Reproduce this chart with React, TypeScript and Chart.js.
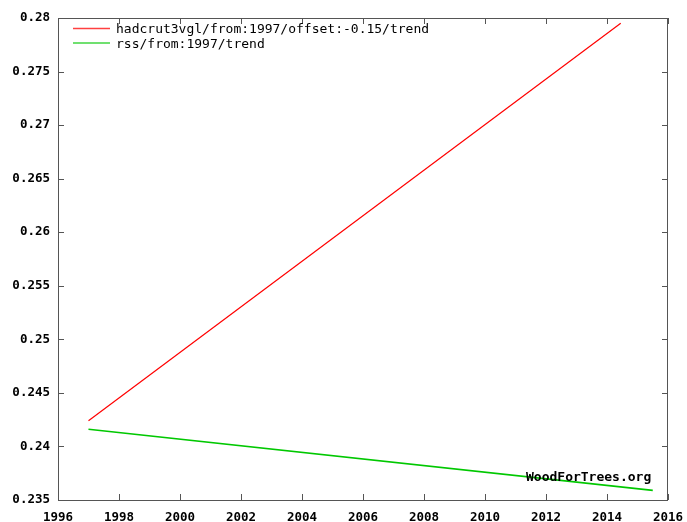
import React, { useEffect, useRef } from "react";
import { Chart, registerables } from "chart.js";

Chart.register(...registerables);

// Trend lines (year, anomaly)
const hadcrutYears = [1997.0, 2014.45];
const hadcrutTrend = [0.2424, 0.2795];
const rssYears = [1997.0, 2015.5];
const rssTrend = [0.2416, 0.2359];

const seriesLabels = ["hadcrut3vgl/from:1997/offset:-0.15/trend", "rss/from:1997/trend"];
const seriesColors = ["#ff0000", "#00c800"];

const xTicks = [1996, 1998, 2000, 2002, 2004, 2006, 2008, 2010, 2012, 2014, 2016];
const yTicks = [0.235, 0.24, 0.245, 0.25, 0.255, 0.26, 0.265, 0.27, 0.275, 0.28];

const MONO = "'DejaVu Sans Mono', 'Liberation Mono', monospace";

const framePlugin = {
  id: "frame",
  afterDatasetsDraw(chart: any) {
    const { ctx, chartArea } = chart;
    const { left, right, top, bottom } = chartArea;
    const xs = chart.scales.x;
    const ys = chart.scales.y;
    ctx.save();

    // watermark
    ctx.fillStyle = "#000";
    ctx.font = `bold 13px ${MONO}`;
    ctx.textBaseline = "middle";
    ctx.textAlign = "left";
    ctx.fillText("WoodForTrees.org", 526, 478);

    // border
    ctx.strokeStyle = "#555";
    ctx.lineWidth = 1;
    ctx.strokeRect(left + 0.5, top + 0.5, right - left - 1, bottom - top);

    // inward ticks on all sides
    const t = 6;
    ctx.beginPath();
    xTicks.forEach((v) => {
      const px = Math.round(xs.getPixelForValue(v)) + 0.5;
      ctx.moveTo(px, bottom);
      ctx.lineTo(px, bottom - t);
      ctx.moveTo(px, top);
      ctx.lineTo(px, top + t);
    });
    yTicks.forEach((v) => {
      const py = Math.round(ys.getPixelForValue(v)) + 0.5;
      ctx.moveTo(left, py);
      ctx.lineTo(left + t, py);
      ctx.moveTo(right, py);
      ctx.lineTo(right - t, py);
    });
    ctx.stroke();

    // legend
    ctx.font = `13px ${MONO}`;
    seriesLabels.forEach((label, i) => {
      const y = 28.5 + i * 14.5;
      ctx.strokeStyle = seriesColors[i];
      ctx.lineWidth = 1.4;
      ctx.globalAlpha = 0.75;
      ctx.beginPath();
      ctx.moveTo(73, y);
      ctx.lineTo(110, y);
      ctx.stroke();
      ctx.globalAlpha = 1;
      ctx.fillStyle = "#000";
      ctx.fillText(label, 116, y + 1.5);
    });
    ctx.restore();
  },
};

export default function App() {
  const ref = useRef<HTMLCanvasElement>(null);

  useEffect(() => {
    if (!ref.current) return;
    const chart = new Chart(ref.current, {
      type: "line",
      data: {
        datasets: [
          {
            label: seriesLabels[0],
            data: hadcrutYears.map((x, i) => ({ x, y: hadcrutTrend[i] })),
            borderColor: seriesColors[0],
            borderWidth: 1.2,
            pointRadius: 0,
          },
          {
            label: seriesLabels[1],
            data: rssYears.map((x, i) => ({ x, y: rssTrend[i] })),
            borderColor: seriesColors[1],
            borderWidth: 1.6,
            pointRadius: 0,
          },
        ],
      },
      options: {
        animation: false,
        responsive: false,
        layout: { padding: { top: 18, right: 19, left: 0, bottom: 0 } },
        plugins: { legend: { display: false }, tooltip: { enabled: false } },
        scales: {
          x: {
            type: "linear",
            min: 1996,
            max: 2016,
            afterFit: (s: any) => {
              s.height = 22;
              s.paddingLeft = 0;
              s.paddingRight = 0;
            },
            afterBuildTicks: (s: any) => {
              s.ticks = xTicks.map((v) => ({ value: v }));
            },
            grid: { display: false, drawTicks: false },
            border: { display: false },
            ticks: {
              padding: 10,
              maxRotation: 0,
              autoSkip: false,
              color: "#000",
              font: { family: MONO, size: 12.5, weight: "bold" },
              callback: (v: any) => String(v),
            },
          },
          y: {
            type: "linear",
            min: 0.235,
            max: 0.28,
            afterFit: (s: any) => {
              s.width = 58;
              s.paddingTop = 0;
              s.paddingBottom = 0;
            },
            afterBuildTicks: (s: any) => {
              s.ticks = yTicks.map((v) => ({ value: v }));
            },
            grid: { display: false, drawTicks: false },
            border: { display: false },
            ticks: {
              padding: 8,
              autoSkip: false,
              color: "#000",
              font: { family: MONO, size: 12.5, weight: "bold" },
              callback: (v: any) => String(parseFloat(Number(v).toFixed(3))),
            },
          },
        },
      },
      plugins: [framePlugin],
    });
    return () => chart.destroy();
  }, []);

  return (
    <div style={{ position: "fixed", left: 0, top: 0, width: 687, height: 522, background: "#fff" }}>
      <canvas ref={ref} width={687} height={522} style={{ display: "block" }} />
    </div>
  );
}
